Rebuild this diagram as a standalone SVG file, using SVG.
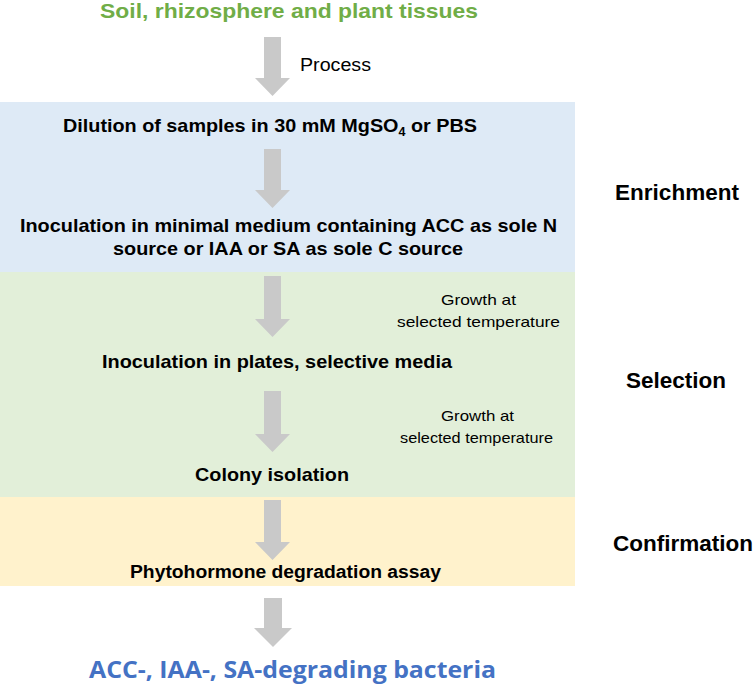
<svg xmlns="http://www.w3.org/2000/svg" width="756" height="688" viewBox="0 0 756 688">
<defs>
<style>
.b{font-family:"Liberation Sans",Arial,sans-serif;font-weight:bold;fill:#000;}
.r{font-family:"Liberation Sans",Arial,sans-serif;fill:#000;}
.lbl{font-family:"Liberation Sans",Arial,sans-serif;font-weight:bold;fill:#000;font-size:22.5px;text-anchor:middle;}
.arr{fill:#c9c9c9;}
</style>
</defs>
<rect width="756" height="688" fill="#ffffff"/>
<g id="panels">
<rect id="enrichment-panel" x="0" y="102" width="575" height="170" fill="#deeaf6"/>
<rect id="selection-panel" x="0" y="272" width="575" height="225" fill="#e2efd9"/>
<rect id="confirmation-panel" x="0" y="497" width="575" height="89" fill="#fff2cc"/>
</g>
<g id="connectors">
<polygon class="arr" points="264,37 281,37 281,78 290,78 272.5,96 255,78 264,78"/>
<polygon class="arr" points="264,149 281,149 281,190 290,190 272.5,208 255,190 264,190"/>
<polygon class="arr" points="264,276 281,276 281,319 290,319 272.5,337 255,319 264,319"/>
<polygon class="arr" points="264,391 281,391 281,434 290,434 272.5,452 255,434 264,434"/>
<polygon class="arr" points="264,500 281,500 281,542 290,542 272.5,560 255,542 264,542"/>
<polygon class="arr" points="264,598 282,598 282,628 292,628 273,647 254,628 264,628"/>
<text class="r" x="335.5" y="71" font-size="18" text-anchor="middle" textLength="71" lengthAdjust="spacingAndGlyphs">Process</text>
<text class="r" x="478.5" y="305" font-size="15" text-anchor="middle" textLength="75" lengthAdjust="spacingAndGlyphs">Growth at</text>
<text class="r" x="478.5" y="327" font-size="15" text-anchor="middle" textLength="163" lengthAdjust="spacingAndGlyphs">selected temperature</text>
<text class="r" x="477.5" y="421" font-size="15" text-anchor="middle" textLength="73" lengthAdjust="spacingAndGlyphs">Growth at</text>
<text class="r" x="476.5" y="443" font-size="15" text-anchor="middle" textLength="153" lengthAdjust="spacingAndGlyphs">selected temperature</text>
</g>
<g id="source">
<text x="289" y="18" font-family="Liberation Sans,Arial,sans-serif" font-weight="bold" font-size="21" fill="#70ad47" text-anchor="middle" textLength="378" lengthAdjust="spacingAndGlyphs">Soil, rhizosphere and plant tissues</text>
</g>
<g id="dilution">
<text class="b" x="63" y="132" font-size="19" textLength="414" lengthAdjust="spacingAndGlyphs">Dilution of samples in 30 mM MgSO<tspan font-size="12" dy="4">4</tspan><tspan dy="-4"> or PBS</tspan></text>
</g>
<g id="inoculation-minimal">
<text class="b" x="288.5" y="232" font-size="19" text-anchor="middle" textLength="537" lengthAdjust="spacingAndGlyphs">Inoculation in minimal medium containing ACC as sole N</text>
<text class="b" x="288" y="255" font-size="19" text-anchor="middle" textLength="350" lengthAdjust="spacingAndGlyphs">source or IAA or SA as sole C source</text>
</g>
<g id="enrichment-label">
<text class="lbl" x="677" y="200">Enrichment</text>
</g>
<g id="inoculation-plates">
<text class="b" x="277" y="368" font-size="19" text-anchor="middle" textLength="350" lengthAdjust="spacingAndGlyphs">Inoculation in plates, selective media</text>
</g>
<g id="selection-label">
<text class="lbl" x="676" y="388">Selection</text>
</g>
<g id="colony-isolation">
<text class="b" x="272" y="481" font-size="19" text-anchor="middle" textLength="154" lengthAdjust="spacingAndGlyphs">Colony isolation</text>
</g>
<g id="assay">
<text class="b" x="285.5" y="578" font-size="18" text-anchor="middle" textLength="311" lengthAdjust="spacingAndGlyphs">Phytohormone degradation assay</text>
</g>
<g id="confirmation-label">
<text class="lbl" x="683" y="551">Confirmation</text>
</g>
<g id="result">
<text x="292.5" y="678" font-family="Open Sans,Liberation Sans,sans-serif" font-weight="bold" font-size="24" fill="#4472c4" text-anchor="middle" textLength="407" lengthAdjust="spacingAndGlyphs">ACC-, IAA-, SA-degrading bacteria</text>
</g>
</svg>
